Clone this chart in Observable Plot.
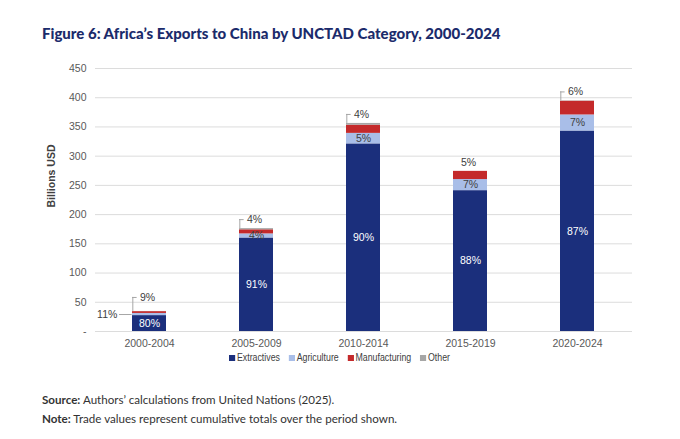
<!DOCTYPE html>
<html>
<head>
<meta charset="utf-8">
<script src="https://cdn.jsdelivr.net/npm/d3@7"></script>
<script src="https://cdn.jsdelivr.net/npm/@observablehq/plot@0.6"></script>
<style>
  html, body { margin: 0; padding: 0; background: #fff; }
  body { position: relative; width: 680px; height: 439px; overflow: hidden; }
  #title { position: absolute; left: 42px; top: 24px; font-family: Lato, "Open Sans", sans-serif; font-weight: 900; font-size: 15px; line-height: 18px; color: #1b2b6b; white-space: nowrap; }
  #chart { position: absolute; left: 0; top: 50px; }
  #legend { position: absolute; left: 229px; top: 351px; display: flex; gap: 10px; font-family: "Liberation Sans Narrow", "Arial Narrow", "Liberation Sans", sans-serif; font-size: 10px; line-height: 14px; color: #404040; white-space: nowrap; transform: scaleX(0.88); transform-origin: 0 50%; }
  #legend span.item { display: flex; align-items: center; gap: 2px; }
  #legend i { display: inline-block; width: 7px; height: 6px; }
  .foot { position: absolute; left: 42px; font-family: Lato, "Open Sans", sans-serif; font-size: 11.6px; line-height: 15px; color: #333; white-space: nowrap; }
  .foot b { font-weight: 700; }
</style>
</head>
<body>
<div id="title"></div>
<div id="chart"></div>
<div id="legend"></div>
<div class="foot" id="source" style="top:392px"></div>
<div class="foot" id="note" style="top:411px"></div>
<script>
// ---- data (billions USD) ----
const periods = ["2000-2004", "2005-2009", "2010-2014", "2015-2019", "2020-2024"];
const categories = ["Extractives", "Agriculture", "Manufacturing", "Other"];
const extractives   = [27.2, 160, 321, 241, 343];
const agriculture   = [3.7, 7, 18, 19, 27.5];
const manufacturing = [3.1, 7, 14, 14, 23.5];
const other         = [0.3, 2, 3, 0, 0.5];
const extLabels  = ["80%", "91%", "90%", "88%", "87%"];
const agriLabels = ["11%", "4%", "5%", "7%", "7%"];
const manuLabels = ["9%", "4%", "4%", "5%", "6%"];
const topLeader  = [true, true, true, false, true];
const yTicks = [0, 50, 100, 150, 200, 250, 300, 350, 400, 450];
const yLabel = "Billions USD";
const titleText = "Figure 6: Africa\u2019s Exports to China by UNCTAD Category, 2000-2024";
const sourceText = ["Source:", " Authors\u2019 calculations from United Nations (2025)."];
const noteText = ["Note:", " Trade values represent cumulative totals over the period shown."];

const colors = ["#1b2f7c", "#a9bee8", "#c42a2b", "#a6a6a6"];

// ---- layout ----
const W = 680, H = 305, mL = 95, mR = 48, mT = 18, mB = 24;
const pInner = 0.68, pOuter = 0.34;
const step = (W - mL - mR) / (periods.length - pInner + 2 * pOuter);
const bw = step * (1 - pInner);
const unitsPerPx = 450 / (H - mT - mB);

// ---- build tables ----
const series = [extractives, agriculture, manufacturing, other];
const rows = [];
periods.forEach((p, i) => categories.forEach((c, j) => rows.push({period: p, category: c, value: series[j][i]})));

const info = periods.map((p, i) => {
  const e = extractives[i], a = agriculture[i], m = manufacturing[i], o = other[i];
  const total = e + a + m + o;
  return {
    period: p, i,
    extMid: e / 2,
    agriMid: e + a / 2,
    total,
    labelY: total + (i === 0 ? 14 : 9) * unitsPerPx,
    extLabel: extLabels[i], agriLabel: agriLabels[i], manuLabel: manuLabels[i],
    leader: topLeader[i]
  };
});
const leaders = info.filter(d => d.leader);

const font = "Liberation Sans Narrow, Arial Narrow, Liberation Sans, sans-serif";

const chart = Plot.plot({
  width: W, height: H,
  marginLeft: mL, marginRight: mR, marginTop: mT, marginBottom: mB,
  style: {fontFamily: font, fontSize: "10.5px", color: "#595959", background: "#fff"},
  x: {domain: periods, paddingInner: pInner, paddingOuter: pOuter, align: 0.5, label: null},
  y: {domain: [0, 450], ticks: yTicks, label: null},
  color: {domain: categories, range: colors},
  marks: [
    Plot.gridY(yTicks, {stroke: "#dcdcdc", strokeOpacity: 1, strokeWidth: 1}),
    Plot.axisY({ticks: yTicks, tickSize: 0, tickPadding: 9, tickFormat: d => d === 0 ? "-" : d, label: null, fill: "#595959"}),
    Plot.axisX({tickSize: 0, tickPadding: 8, label: null, fill: "#595959"}),
    Plot.barY(rows, {x: "period", y: "value", fill: "category", order: categories}),
    // extractives labels (white)
    Plot.text(info, {x: "period", y: "extMid", text: "extLabel", fill: "#fff", fontSize: 10.5}),
    // agriculture labels inside
    Plot.text(info.filter(d => d.i > 0), {x: "period", y: "agriMid", text: "agriLabel", fill: "#404040", fontSize: 10.5}),
    // agriculture label outside for first bar
    Plot.text(info.filter(d => d.i === 0), {x: "period", y: "agriMid", text: "agriLabel", fill: "#404040", fontSize: 10.5, textAnchor: "end", dx: -bw / 2 - 15}),
    Plot.tickY(info.filter(d => d.i === 0), {x: "period", y: "agriMid", dx: -13, insetRight: bw - 13, stroke: "#a6a6a6", strokeWidth: 1}),
    // manufacturing labels above bars
    Plot.text(info, {x: "period", y: "labelY", text: "manuLabel", fill: "#404040", fontSize: 10.5, dx: -2}),
    // leader lines
    Plot.ruleX(leaders, {x: "period", y1: "total", y2: "labelY", dx: -bw / 2 + 0.5, stroke: "#a6a6a6", strokeWidth: 1}),
    Plot.tickY(leaders, {x: "period", y: "labelY", insetRight: bw - 5, stroke: "#a6a6a6", strokeWidth: 1}),
    // y axis title
    Plot.text([yLabel], {frameAnchor: "left", textAnchor: "middle", rotate: -90, dx: -44, dy: -24, fill: "#404040", fontWeight: "bold", fontSize: 10.5})
  ]
});
document.getElementById("chart").appendChild(chart);

// ---- html texts ----
document.getElementById("title").textContent = titleText;
const legend = document.getElementById("legend");
categories.forEach((c, j) => {
  const s = document.createElement("span");
  s.className = "item";
  const sw = document.createElement("i");
  sw.style.background = colors[j];
  s.appendChild(sw);
  s.appendChild(document.createTextNode(c));
  legend.appendChild(s);
});
function foot(id, parts) {
  const el = document.getElementById(id);
  const b = document.createElement("b");
  b.textContent = parts[0];
  el.appendChild(b);
  el.appendChild(document.createTextNode(parts[1]));
}
foot("source", sourceText);
foot("note", noteText);
</script>
</body>
</html>
